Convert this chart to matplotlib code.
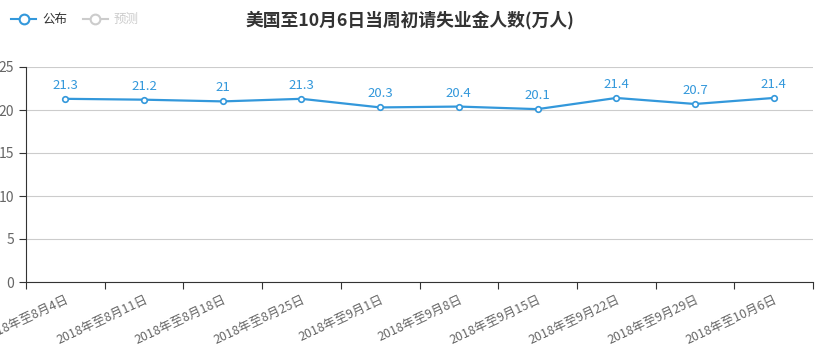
import matplotlib.pyplot as plt
from matplotlib.lines import Line2D

plt.rcParams['font.family'] = ['Noto Sans CJK SC', 'DejaVu Sans']

# data
weeks = ["2018年至8月4日", "2018年至8月11日", "2018年至8月18日", "2018年至8月25日",
         "2018年至9月1日", "2018年至9月8日", "2018年至9月15日", "2018年至9月22日",
         "2018年至9月29日", "2018年至10月6日"]
published = [21.3, 21.2, 21, 21.3, 20.3, 20.4, 20.1, 21.4, 20.7, 21.4]
yticks = [0, 5, 10, 15, 20, 25]

blue = "#3398DB"
n = len(weeks)

fig = plt.figure(figsize=(8.19, 3.54), dpi=100)
ax = fig.add_axes([26 / 819, 72 / 354, 787 / 819, 215 / 354])

x = list(range(n))
ax.plot(x, published, color=blue, lw=1.6, marker="o", ms=4,
        mfc="white", mec=blue, mew=1.2, zorder=3)
for xi, v in zip(x, published):
    ax.annotate(f"{v:g}", (xi, v), xytext=(0, 5), textcoords="offset points",
                ha="center", va="bottom", color=blue, fontsize=9.5)

ax.set_xlim(-0.5, n - 0.5)
ax.set_ylim(0, 25)
ax.set_yticks(yticks)
ax.yaxis.grid(True, color="#cccccc", lw=0.8)
ax.set_axisbelow(True)

# boundary ticks, labels at category centres
ax.set_xticks([i - 0.5 for i in range(n + 1)])
ax.set_xticklabels([])
ax.set_xticks(x, minor=True)
ax.set_xticklabels(weeks, minor=True, rotation=25, ha="right",
                   rotation_mode="anchor", fontsize=9, color="#666666")
ax.tick_params(axis="x", which="minor", length=0, pad=8)
ax.tick_params(axis="x", which="major", length=5, color="#333333")
ax.tick_params(axis="y", length=5, color="#333333", labelsize=10,
               labelcolor="#666666")

for s in ["top", "right"]:
    ax.spines[s].set_visible(False)
ax.spines["left"].set_color("#333333")
ax.spines["bottom"].set_color("#333333")

fig.text(0.5, 1 - 20 / 354, "美国至10月6日当周初请失业金人数(万人)", ha="center",
         va="center", fontsize=12.8, fontweight="bold", color="#333333")

h1 = Line2D([], [], color=blue, marker="o", ms=7, mfc="white", mew=1.5, lw=1.5)
h2 = Line2D([], [], color="#cccccc", marker="o", ms=7, mfc="white", mew=1.5, lw=1.5)
leg = fig.legend([h1, h2], ["公布", "预测"], loc="upper left",
                 bbox_to_anchor=(0.0, 0.995), ncol=2, frameon=False, fontsize=9,
                 handlelength=2.0, columnspacing=1.2, handletextpad=0.5)
leg.get_texts()[0].set_color("#333333")
leg.get_texts()[1].set_color("#cccccc")

fig.savefig("out.png", dpi=100)
